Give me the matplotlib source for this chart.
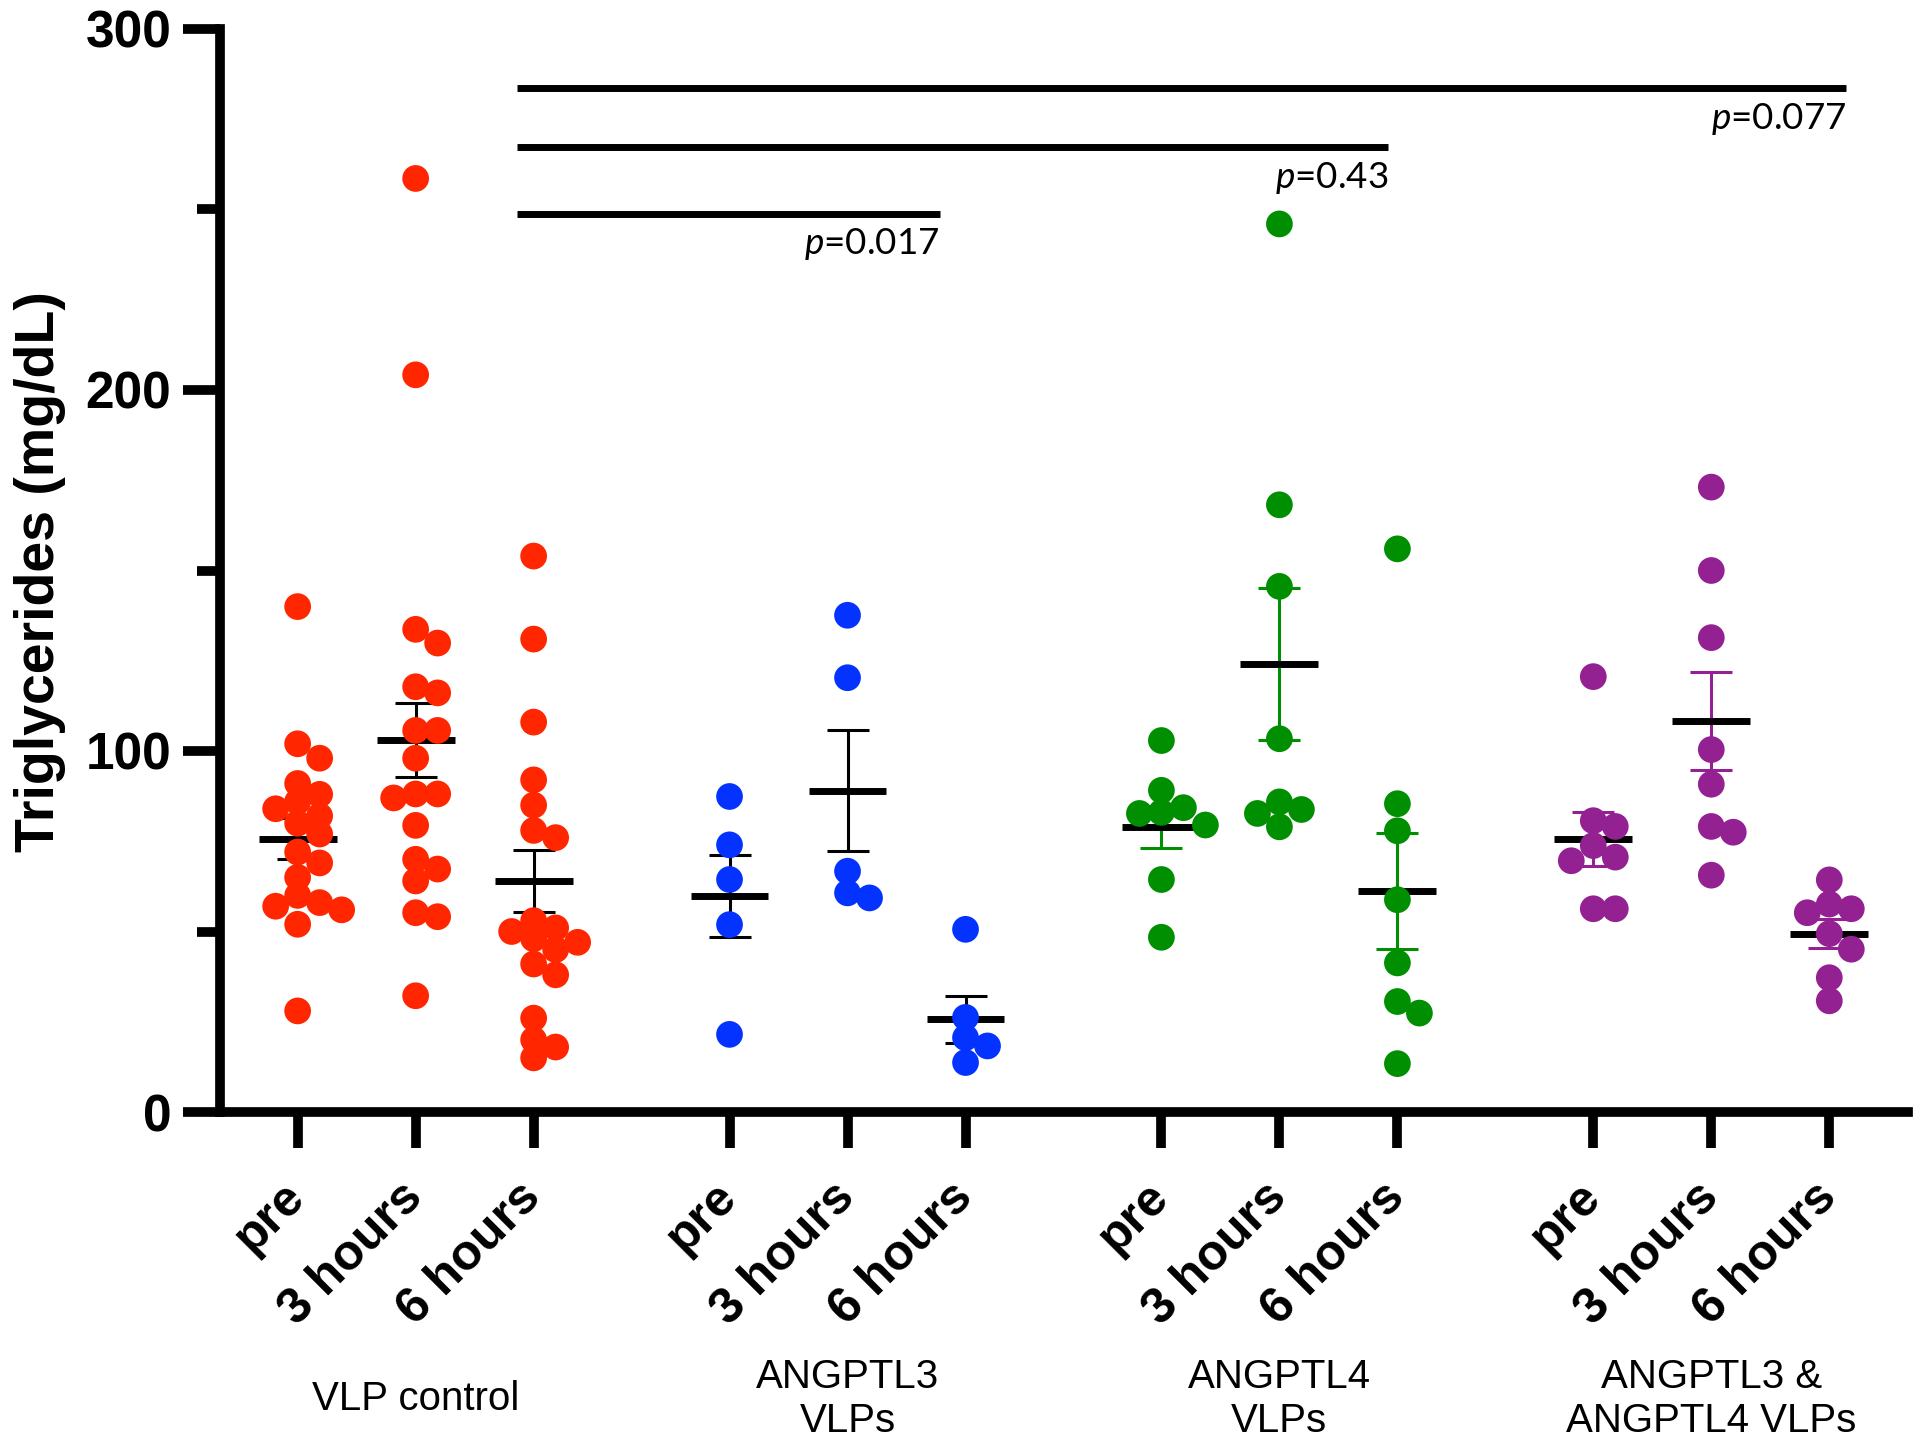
import numpy as np
import matplotlib
matplotlib.use('Agg')
import matplotlib.pyplot as plt

plt.rcParams['font.family'] = ['Liberation Sans', 'DejaVu Sans']
plt.rcParams['mathtext.fontset'] = 'custom'
plt.rcParams['mathtext.it'] = 'Lato:italic'
plt.rcParams['mathtext.rm'] = 'Lato'

groups = ['VLP control', 'ANGPTL3\nVLPs', 'ANGPTL4\nVLPs', 'ANGPTL3 &\nANGPTL4 VLPs']
timepoints = ['pre', '3 hours', '6 hours']
dot_colors = ['#FF2600', '#0433FF', '#008F00', '#942192']
err_colors = ['black', 'black', '#008F00', '#942192']

# triglycerides (mg/dL), one list per group and time point
ctrl_pre = [140, 102, 98, 91, 88, 86, 84, 82, 80, 77, 72, 69, 65, 60, 58, 57, 56, 52, 28]
ctrl_3h = [258.6, 204.2, 133.7, 129.9, 117.8, 116.1, 105.7, 105.7, 98, 88.1, 88.1, 87,
           79.4, 70, 67.3, 64, 55.2, 54.1, 32.2]
ctrl_6h = [154, 131, 108, 92, 85, 78, 76, 53, 51, 50, 48, 47, 45, 41, 38, 26, 20, 18, 15]
a3_pre = [87.4, 74.0, 64.4, 51.9, 21.5]
a3_3h = [137.6, 120.3, 66.7, 59.3, 60.7]
a3_6h = [50.6, 26.2, 20.6, 18.3, 13.7]
a4_pre = [102.9, 89.1, 84.3, 82.7, 83.0, 79.5, 64.4, 48.4]
a4_3h = [246.0, 168.2, 145.6, 103.4, 85.9, 82.7, 83.8, 79.0]
a4_6h = [156.0, 85.4, 77.9, 58.8, 41.3, 30.6, 27.4, 13.4]
combo_pre = [120.6, 80.7, 79.1, 73.8, 70.6, 69.6, 56.3, 56.3]
combo_3h = [173.1, 150.0, 131.4, 100.4, 90.8, 79.1, 77.5, 65.6]
combo_6h = [64.3, 55.2, 56.3, 57.6, 49.4, 45.1, 37.2, 30.8]

data = [[ctrl_pre, ctrl_3h, ctrl_6h], [a3_pre, a3_3h, a3_6h],
        [a4_pre, a4_3h, a4_6h], [combo_pre, combo_3h, combo_6h]]

# mean and SEM as drawn in the figure
means = [[75.7, 103.0, 64.0], [59.8, 89.0, 25.7], [79.0, 124.1, 61.2], [75.6, 108.3, 49.4]]
sems = [[5.7, 10.3, 8.7], [11.3, 16.8, 6.5], [5.9, 21.0, 16.1], [7.4, 13.6, 4.0]]

# comparisons (VLP control 6 h vs each 6 h group)
sig_y = [248.8, 267.2, 283.6]
sig_x0 = [1.86, 1.86, 1.86]
sig_x1 = [5.44, 9.24, 13.12]
sig_text = ['0.017', '0.43', '0.077']

GROUP_STEP = 3.66
PX_X = 118.0   # pixels per category unit
PX_Y = 1083.0 / 300  # pixels per mg/dL


def swarm(vals, xc, step=22, mind=18):
    vals = np.asarray(vals, dtype=float)
    xs = np.zeros(len(vals))
    placed = []
    cands = [0]
    for n in range(1, 10):
        cands += [n * step, -n * step]
    for i in np.argsort(vals)[::-1]:
        yv = vals[i] * PX_Y
        for c in cands:
            if all((c - px) ** 2 + (yv - py) ** 2 >= mind ** 2 for px, py in placed):
                break
        placed.append((c, yv))
        xs[i] = xc + c / PX_X
    return xs


fig = plt.figure(figsize=(19.2, 14.56), dpi=100)
ax = fig.add_axes([220 / 1920, 1 - 1112 / 1456, (1908 - 220) / 1920, (1112 - 29) / 1456])

positions = []
for g in range(4):
    for t in range(3):
        x = g * GROUP_STEP + t
        positions.append(x)
        ax.errorbar(x, means[g][t], yerr=sems[g][t], fmt='none', ecolor=err_colors[g],
                    elinewidth=2.2, capsize=15, capthick=2.2, zorder=2)
        ax.hlines(means[g][t], x - 0.33, x + 0.33, color='black', lw=5, zorder=3)
        vals = data[g][t]
        ax.scatter(swarm(vals, x), vals, s=370, color=dot_colors[g], edgecolors='none', zorder=4)

for y, x0, x1, txt in zip(sig_y, sig_x0, sig_x1, sig_text):
    ax.hlines(y, x0, x1, color='black', lw=5, clip_on=False)
    ax.annotate(r'$p$=' + txt, xy=(x1, y), xytext=(0, -9), textcoords='offset points',
                ha='right', va='top', fontsize=26.5, family='Lato', annotation_clip=False)

ax.set_xlim(-0.658, 13.647)
ax.set_ylim(0, 300)
for s in ['top', 'right']:
    ax.spines[s].set_visible(False)
for s in ['left', 'bottom']:
    ax.spines[s].set_linewidth(7)
ax.spines['left'].set_capstyle('projecting')

ax.set_yticks([0, 100, 200, 300])
ax.set_yticks([50, 150, 250], minor=True)
ax.set_yticklabels(['0', '100', '200', '300'], fontsize=37, fontweight='bold')
ax.tick_params(axis='y', which='major', length=27, width=7, pad=8)
ax.tick_params(axis='y', which='minor', length=16.5, width=7)

ax.set_xticks(positions)
ax.set_xticklabels(timepoints * 4, fontsize=36, fontweight='bold', rotation=45,
                   ha='right', va='center', rotation_mode='anchor')
ax.tick_params(axis='x', which='major', length=26, width=7, pad=30)

for g, name in enumerate(groups):
    ax.text(g * GROUP_STEP + 1, -79.4, name, ha='center', va='center', fontsize=29,
            linespacing=1.2, clip_on=False)

fig.text(40 / 1920, 1 - 572 / 1456, 'Triglycerides (mg/dL)', rotation=90, ha='center',
         va='center', fontsize=40, fontweight='bold')

fig.savefig('out.png', dpi=100)
